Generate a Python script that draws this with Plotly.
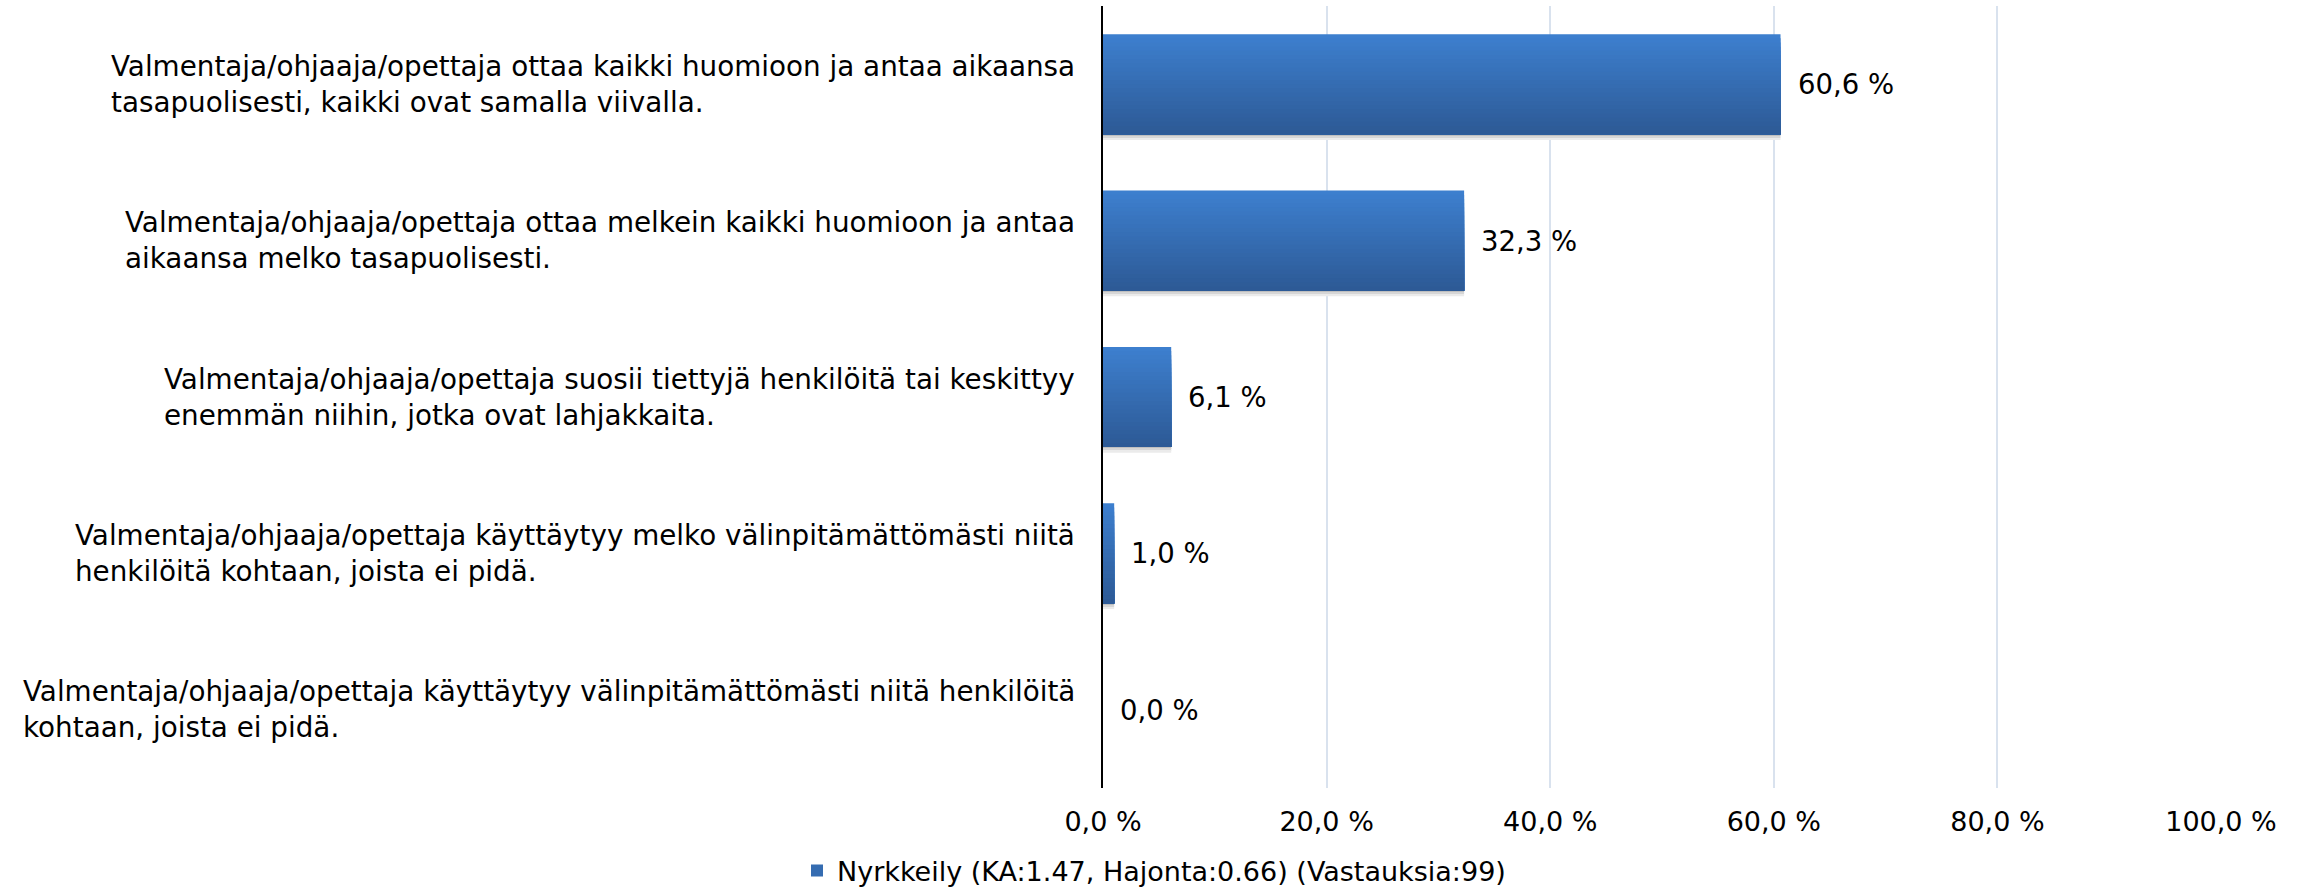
import plotly.graph_objects as go

categories = [
    "Valmentaja/ohjaaja/opettaja ottaa kaikki huomioon ja antaa aikaansa<br>tasapuolisesti, kaikki ovat samalla viivalla.",
    "Valmentaja/ohjaaja/opettaja ottaa melkein kaikki huomioon ja antaa<br>aikaansa melko tasapuolisesti.",
    "Valmentaja/ohjaaja/opettaja suosii tiettyjä henkilöitä tai keskittyy<br>enemmän niihin, jotka ovat lahjakkaita.",
    "Valmentaja/ohjaaja/opettaja käyttäytyy melko välinpitämättömästi niitä<br>henkilöitä kohtaan, joista ei pidä.",
    "Valmentaja/ohjaaja/opettaja käyttäytyy välinpitämättömästi niitä henkilöitä<br>kohtaan, joista ei pidä.",
]
values = [60.6, 32.3, 6.1, 1.0, 0.0]
value_labels = ["60,6 %", "32,3 %", "6,1 %", "1,0 %", "0,0 %"]
tick_vals = [0, 20, 40, 60, 80, 100]
tick_labels = ["0,0 %", "20,0 %", "40,0 %", "60,0 %", "80,0 %", "100,0 %"]
series_name = "Nyrkkeily (KA:1.47, Hajonta:0.66) (Vastauksia:99)"

FONT = "DejaVu Sans"
FS_LABEL = 27.8
FS_VALUE = 27.5
FS_TICK = 27
FS_LEGEND = 27

top_rgb = (61, 127, 206)
bot_rgb = (45, 90, 150)
N = 24
W = 0.64

fig = go.Figure()

# soft shadow under bars
for k, col in enumerate(["#bfbfbf", "#d6d6d6", "#ebebeb"]):
    fig.add_trace(go.Bar(
        y=categories, x=values, orientation="h",
        width=0.012, offset=W / 2 + k * 0.012,
        marker=dict(color=col, line=dict(width=0)),
        showlegend=False, hoverinfo="skip",
    ))

# vertical gradient: each band runs from its start down to the bar bottom
for i in range(N):
    t = i / (N - 1)
    r = round(top_rgb[0] + (bot_rgb[0] - top_rgb[0]) * t)
    g = round(top_rgb[1] + (bot_rgb[1] - top_rgb[1]) * t)
    b = round(top_rgb[2] + (bot_rgb[2] - top_rgb[2]) * t)
    start = -W / 2 + i * W / N
    fig.add_trace(go.Bar(
        y=categories, x=values, orientation="h",
        width=W / 2 - start, offset=start,
        marker=dict(color=f"rgb({r},{g},{b})", line=dict(width=0)),
        name=series_name, showlegend=(i == N // 2),
        hoverinfo="x+y",
    ))

annotations = []
for cat in categories:
    annotations.append(dict(
        x=0, xref="x", y=cat, yref="y", text=cat, showarrow=False,
        xanchor="right", align="left", xshift=-26,
        font=dict(family=FONT, size=FS_LABEL, color="black"),
    ))
for cat, v, lab in zip(categories, values, value_labels):
    annotations.append(dict(
        x=v, xref="x", y=cat, yref="y", text=lab, showarrow=False,
        xanchor="left", xshift=15,
        font=dict(family=FONT, size=FS_VALUE, color="black"),
    ))

fig.update_layout(
    width=2308, height=892,
    margin=dict(l=1103, r=87, t=6, b=104),
    plot_bgcolor="white", paper_bgcolor="white",
    barmode="overlay",
    annotations=annotations,
    font=dict(family=FONT, size=FS_LABEL, color="black"),
    xaxis=dict(
        range=[0, 100], tickvals=tick_vals, ticktext=tick_labels,
        showgrid=True, gridcolor="#d9e2ee", gridwidth=1.5,
        zeroline=False, showline=False, ticks="",
        ticklabelstandoff=15,
        tickfont=dict(family=FONT, size=FS_TICK, color="black"),
    ),
    yaxis=dict(
        type="category", range=[4.5, -0.5],
        showticklabels=False, showgrid=False, zeroline=False,
        showline=True, linecolor="black", linewidth=1.5, ticks="",
    ),
    legend=dict(
        orientation="h", xref="container", yref="container",
        x=0.5, xanchor="center", y=(892 - 871) / 892, yanchor="middle",
        font=dict(family=FONT, size=FS_LEGEND, color="black"),
        itemwidth=30,
    ),
)

fig.write_html(
    "out.html",
    config={"displayModeBar": False},
    post_script="document.body.style.margin='0';document.body.style.overflow='hidden';",
)
